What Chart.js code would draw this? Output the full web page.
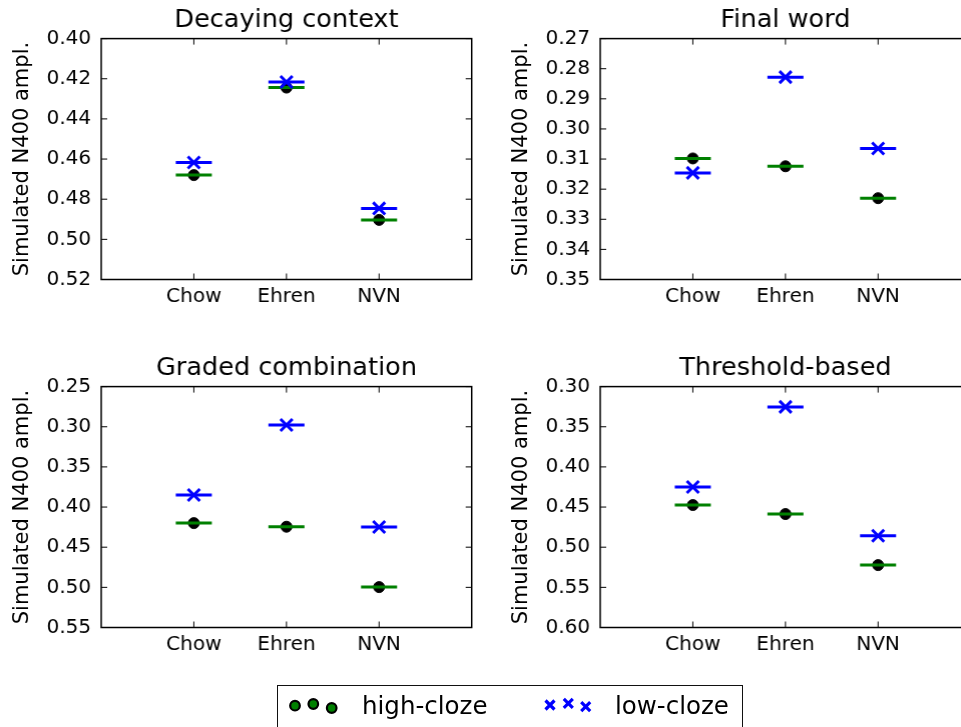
<!DOCTYPE html>
<html>
<head>
<meta charset="utf-8">
<script src="https://cdn.jsdelivr.net/npm/chart.js@4.4.1/dist/chart.umd.min.js"></script>
<style>
  html, body { margin: 0; padding: 0; background: #fff; }
  #page { position: relative; width: 961px; height: 727px; overflow: hidden; font-family: 'DejaVu Sans', sans-serif; }
  .panel { position: absolute; width: 491.7px; height: 330px; }
  #legend { position: absolute; left: 277px; top: 685px; width: 464px; height: 60px; border: 1.5px solid #111; }
  .legend-text { position: absolute; font-size: 24.5px; line-height: normal; color: #000; white-space: nowrap; }
  #legend-marks { position: absolute; left: 0; top: 0; }
</style>
</head>
<body>
<div id="page">
  <div class="panel" style="left:0;top:0"><canvas id="decaying"></canvas></div>
  <div class="panel" style="left:499px;top:0"><canvas id="final"></canvas></div>
  <div class="panel" style="left:0;top:348.4px"><canvas id="graded"></canvas></div>
  <div class="panel" style="left:499px;top:348.4px"><canvas id="threshold"></canvas></div>

  <div id="legend"></div>
  <svg id="legend-marks" width="961" height="727">
    <g fill="#008000" stroke="#000" stroke-width="2.2">
      <circle cx="295" cy="705.7" r="4.8"/>
      <circle cx="313.3" cy="704" r="4.8"/>
      <circle cx="331.7" cy="708" r="4.8"/>
    </g>
    <g stroke="#0000ff" stroke-width="3.2" fill="none">
      <path d="M545.5 700.5 L554.5 709.5 M554.5 700.5 L545.5 709.5"/>
      <path d="M563.8 698.8 L572.8 707.8 M572.8 698.8 L563.8 707.8"/>
      <path d="M581.2 702.2 L590.2 711.2 M590.2 702.2 L581.2 711.2"/>
    </g>
  </svg>
  <div class="legend-text" style="left:362px;top:691px">high-cloze</div>
  <div class="legend-text" style="left:615px;top:691px">low-cloze</div>
</div>

<script>
// Categories sit at x = 1, 2, 3 on a 0..4 axis
const categories = ['Chow', 'Ehren', 'NVN'];
const categoryX = [1, 2, 3];

// Decaying context
const decayingHigh = [0.4680, 0.4244, 0.4903];
const decayingLow = [0.4617, 0.4216, 0.4846];
const decayingTicks = [0.40, 0.42, 0.44, 0.46, 0.48, 0.50, 0.52];

// Final word
const finalHigh = [0.3098, 0.3124, 0.3230];
const finalLow = [0.3146, 0.2828, 0.3065];
const finalTicks = [0.27, 0.28, 0.29, 0.30, 0.31, 0.32, 0.33, 0.34, 0.35];

// Graded combination
const gradedHigh = [0.4200, 0.4245, 0.4997];
const gradedLow = [0.3850, 0.2978, 0.4249];
const gradedTicks = [0.25, 0.30, 0.35, 0.40, 0.45, 0.50, 0.55];

// Threshold-based
const thresholdHigh = [0.4475, 0.4587, 0.5223];
const thresholdLow = [0.4250, 0.3253, 0.4857];
const thresholdTicks = [0.30, 0.35, 0.40, 0.45, 0.50, 0.55, 0.60];

const GREEN = '#008000';
const BLUE = '#0000ff';

Chart.defaults.font.family = "'DejaVu Sans', sans-serif";
Chart.defaults.color = '#000';

// Box around the plot area with inward-pointing tick marks on all four sides
const frameAndTicks = {
  id: 'frameAndTicks',
  afterDraw(chart) {
    const { ctx, chartArea: a, scales } = chart;
    const len = 6;
    ctx.save();
    ctx.strokeStyle = '#000';
    ctx.lineWidth = 1;
    ctx.beginPath();
    scales.x.ticks.forEach(t => {
      const px = scales.x.getPixelForValue(t.value);
      ctx.moveTo(px, a.top); ctx.lineTo(px, a.top + len);
      ctx.moveTo(px, a.bottom); ctx.lineTo(px, a.bottom - len);
    });
    scales.y.ticks.forEach(t => {
      const py = scales.y.getPixelForValue(t.value);
      ctx.moveTo(a.left, py); ctx.lineTo(a.left + len, py);
      ctx.moveTo(a.right, py); ctx.lineTo(a.right - len, py);
    });
    ctx.stroke();
    ctx.lineWidth = 1.5;
    ctx.strokeRect(a.left, a.top, a.right - a.left, a.bottom - a.top);
    ctx.restore();
  }
};

function toPoints(values) {
  return categoryX.map((x, i) => ({ x, y: values[i] }));
}

function makePanel(id, title, high, low, yTicks) {
  const highPts = toPoints(high);
  const lowPts = toPoints(low);

  return new Chart(document.getElementById(id), {
    type: 'scatter',
    data: {
      datasets: [
        {
          label: 'low-cloze',
          data: lowPts,
          pointStyle: 'crossRot',
          pointRadius: 8.5,
          pointBorderColor: BLUE,
          pointBorderWidth: 3,
          order: 0
        },
        {
          label: 'low-cloze bar',
          data: lowPts,
          pointStyle: 'line',
          pointRadius: 18,
          pointBorderColor: BLUE,
          pointBorderWidth: 3,
          order: 1
        },
        {
          label: 'high-cloze bar',
          data: highPts,
          pointStyle: 'line',
          pointRadius: 18,
          pointBorderColor: GREEN,
          pointBorderWidth: 3,
          order: 2
        },
        {
          label: 'high-cloze',
          data: highPts,
          pointStyle: 'circle',
          pointRadius: 5.5,
          pointBackgroundColor: '#000',
          pointBorderColor: '#000',
          pointBorderWidth: 1,
          order: 3
        }
      ]
    },
    options: {
      responsive: true,
      maintainAspectRatio: false,
      animation: false,
      events: [],
      layout: { padding: { left: 0, right: 9.3, top: 0, bottom: 0 } },
      scales: {
        x: {
          type: 'linear',
          min: 0,
          max: 4,
          grid: { display: false, drawTicks: false },
          border: { display: false },
          afterBuildTicks: s => { s.ticks = categoryX.map(v => ({ value: v })); },
          afterFit: s => {
            s.height = 50.5;
            s.paddingLeft = 0;
            s.paddingRight = 0;
          },
          ticks: {
            padding: 5,
            font: { size: 20 },
            callback: v => categories[categoryX.indexOf(v)]
          }
        },
        y: {
          type: 'linear',
          reverse: true,
          min: yTicks[0],
          max: yTicks[yTicks.length - 1],
          grid: { display: false, drawTicks: false },
          border: { display: false },
          afterBuildTicks: s => { s.ticks = yTicks.map(v => ({ value: v })); },
          afterFit: s => { s.width = 101; },
          ticks: {
            padding: 10,
            font: { size: 20 },
            callback: v => v.toFixed(2)
          },
          title: {
            display: true,
            text: 'Simulated N400 ampl.',
            font: { size: 21 },
            padding: { top: 10.4, bottom: 0 }
          }
        }
      },
      plugins: {
        legend: { display: false },
        tooltip: { enabled: false },
        title: {
          display: true,
          text: title,
          fullSize: false,
          font: { size: 25.5, weight: 'normal' },
          color: '#000',
          padding: { top: 4.7, bottom: 3.3 }
        }
      }
    },
    plugins: [frameAndTicks]
  });
}

makePanel('decaying', 'Decaying context', decayingHigh, decayingLow, decayingTicks);
makePanel('final', 'Final word', finalHigh, finalLow, finalTicks);
makePanel('graded', 'Graded combination', gradedHigh, gradedLow, gradedTicks);
makePanel('threshold', 'Threshold-based', thresholdHigh, thresholdLow, thresholdTicks);
</script>
</body>
</html>
